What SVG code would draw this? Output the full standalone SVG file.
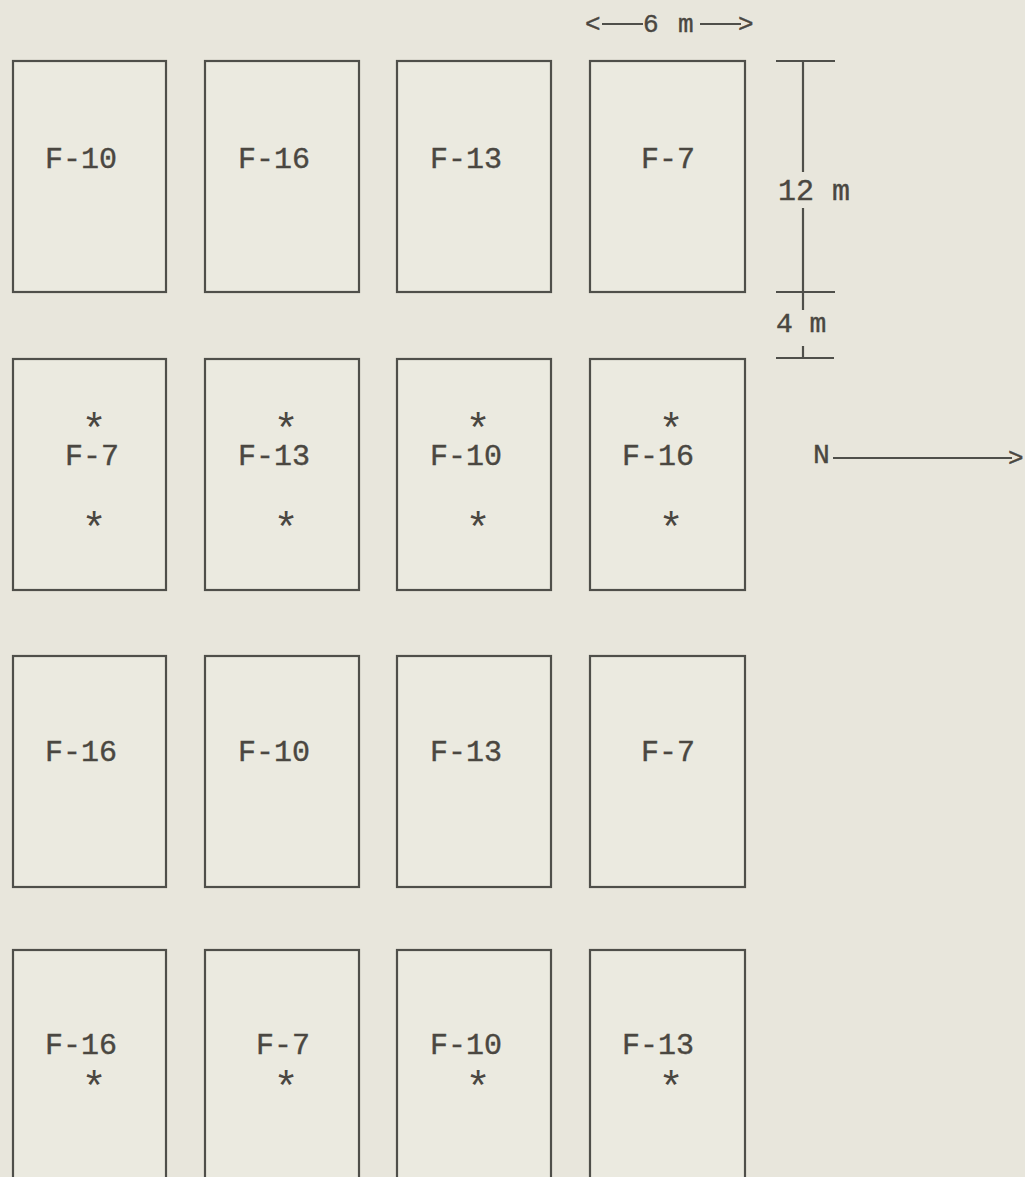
<svg xmlns="http://www.w3.org/2000/svg" width="1025" height="1177" viewBox="0 0 1025 1177">
<style>
.plot{fill:#ebeae0;stroke:#4f4f4a;stroke-width:2.2}
.lbl{font-family:"Liberation Mono","DejaVu Sans Mono",monospace;font-size:30px;fill:#4a4741;stroke:#4a4741;stroke-width:0.4}
.star{font-family:"Liberation Mono","DejaVu Sans Mono",monospace;font-size:42px;fill:#4a4741;text-anchor:middle}
.sc{font-family:"Liberation Mono","DejaVu Sans Mono",monospace;fill:#4a4741;stroke:#4a4741;stroke-width:0.4}
.ln{stroke:#4f4f4a;stroke-width:2.2;fill:none}
</style>
<rect width="1025" height="1177" fill="#e8e6dc"/>
<g id="row1">
<g id="p-r1c1"><rect class="plot" x="13" y="61" width="153" height="231"/><text class="lbl" x="45" y="168">F-10</text></g>
<g id="p-r1c2"><rect class="plot" x="205" y="61" width="154" height="231"/><text class="lbl" x="238" y="168">F-16</text></g>
<g id="p-r1c3"><rect class="plot" x="397" y="61" width="154" height="231"/><text class="lbl" x="430" y="168">F-13</text></g>
<g id="p-r1c4"><rect class="plot" x="590" y="61" width="155" height="231"/><text class="lbl" x="641" y="168">F-7</text></g>
</g>
<g id="row2">
<g id="p-r2c1"><rect class="plot" x="13" y="359" width="153" height="231"/><text class="star" x="94" y="443">*</text><text class="lbl" x="65" y="465">F-7</text><text class="star" x="94" y="542">*</text></g>
<g id="p-r2c2"><rect class="plot" x="205" y="359" width="154" height="231"/><text class="star" x="286" y="443">*</text><text class="lbl" x="238" y="465">F-13</text><text class="star" x="286" y="542">*</text></g>
<g id="p-r2c3"><rect class="plot" x="397" y="359" width="154" height="231"/><text class="star" x="478" y="443">*</text><text class="lbl" x="430" y="465">F-10</text><text class="star" x="478" y="542">*</text></g>
<g id="p-r2c4"><rect class="plot" x="590" y="359" width="155" height="231"/><text class="star" x="671" y="443">*</text><text class="lbl" x="622" y="465">F-16</text><text class="star" x="671" y="542">*</text></g>
</g>
<g id="row3">
<g id="p-r3c1"><rect class="plot" x="13" y="656" width="153" height="231"/><text class="lbl" x="45" y="761">F-16</text></g>
<g id="p-r3c2"><rect class="plot" x="205" y="656" width="154" height="231"/><text class="lbl" x="238" y="761">F-10</text></g>
<g id="p-r3c3"><rect class="plot" x="397" y="656" width="154" height="231"/><text class="lbl" x="430" y="761">F-13</text></g>
<g id="p-r3c4"><rect class="plot" x="590" y="656" width="155" height="231"/><text class="lbl" x="641" y="761">F-7</text></g>
</g>
<g id="row4">
<g id="p-r4c1"><rect class="plot" x="13" y="950" width="153" height="260"/><text class="lbl" x="45" y="1054">F-16</text><text class="star" x="94" y="1101">*</text></g>
<g id="p-r4c2"><rect class="plot" x="205" y="950" width="154" height="260"/><text class="lbl" x="256" y="1054">F-7</text><text class="star" x="286" y="1101">*</text></g>
<g id="p-r4c3"><rect class="plot" x="397" y="950" width="154" height="260"/><text class="lbl" x="430" y="1054">F-10</text><text class="star" x="478" y="1101">*</text></g>
<g id="p-r4c4"><rect class="plot" x="590" y="950" width="155" height="260"/><text class="lbl" x="622" y="1054">F-13</text><text class="star" x="671" y="1101">*</text></g>
</g>
<g id="connectors">
<g id="width-scale">
<text class="sc" x="585" y="32" font-size="26">&lt;</text>
<line class="ln" x1="602" y1="24" x2="643" y2="24"/>
<text class="sc" x="643" y="32" font-size="26">6</text>
<text class="sc" x="678" y="32" font-size="26">m</text>
<line class="ln" x1="700" y1="24" x2="741" y2="24"/>
<text class="sc" x="738" y="32" font-size="26">&gt;</text>
</g>
<g id="length-scale">
<line class="ln" x1="776" y1="61" x2="835" y2="61"/>
<line class="ln" x1="803" y1="61" x2="803" y2="172"/>
<line class="ln" x1="803" y1="208" x2="803" y2="310"/>
<line class="ln" x1="776" y1="292" x2="835" y2="292"/>
<text class="sc" x="778" y="200" font-size="30">12 m</text>
<text class="sc" x="776" y="332" font-size="28">4 m</text>
<line class="ln" x1="776" y1="358" x2="834" y2="358"/>
<line class="ln" x1="803" y1="346" x2="803" y2="358"/>
</g>
<g id="north">
<text class="sc" x="813" y="463" font-size="28">N</text>
<line class="ln" x1="833" y1="458" x2="1012" y2="458"/>
<text class="sc" x="1008" y="466" font-size="26">&gt;</text>
</g>
</g>
</svg>
